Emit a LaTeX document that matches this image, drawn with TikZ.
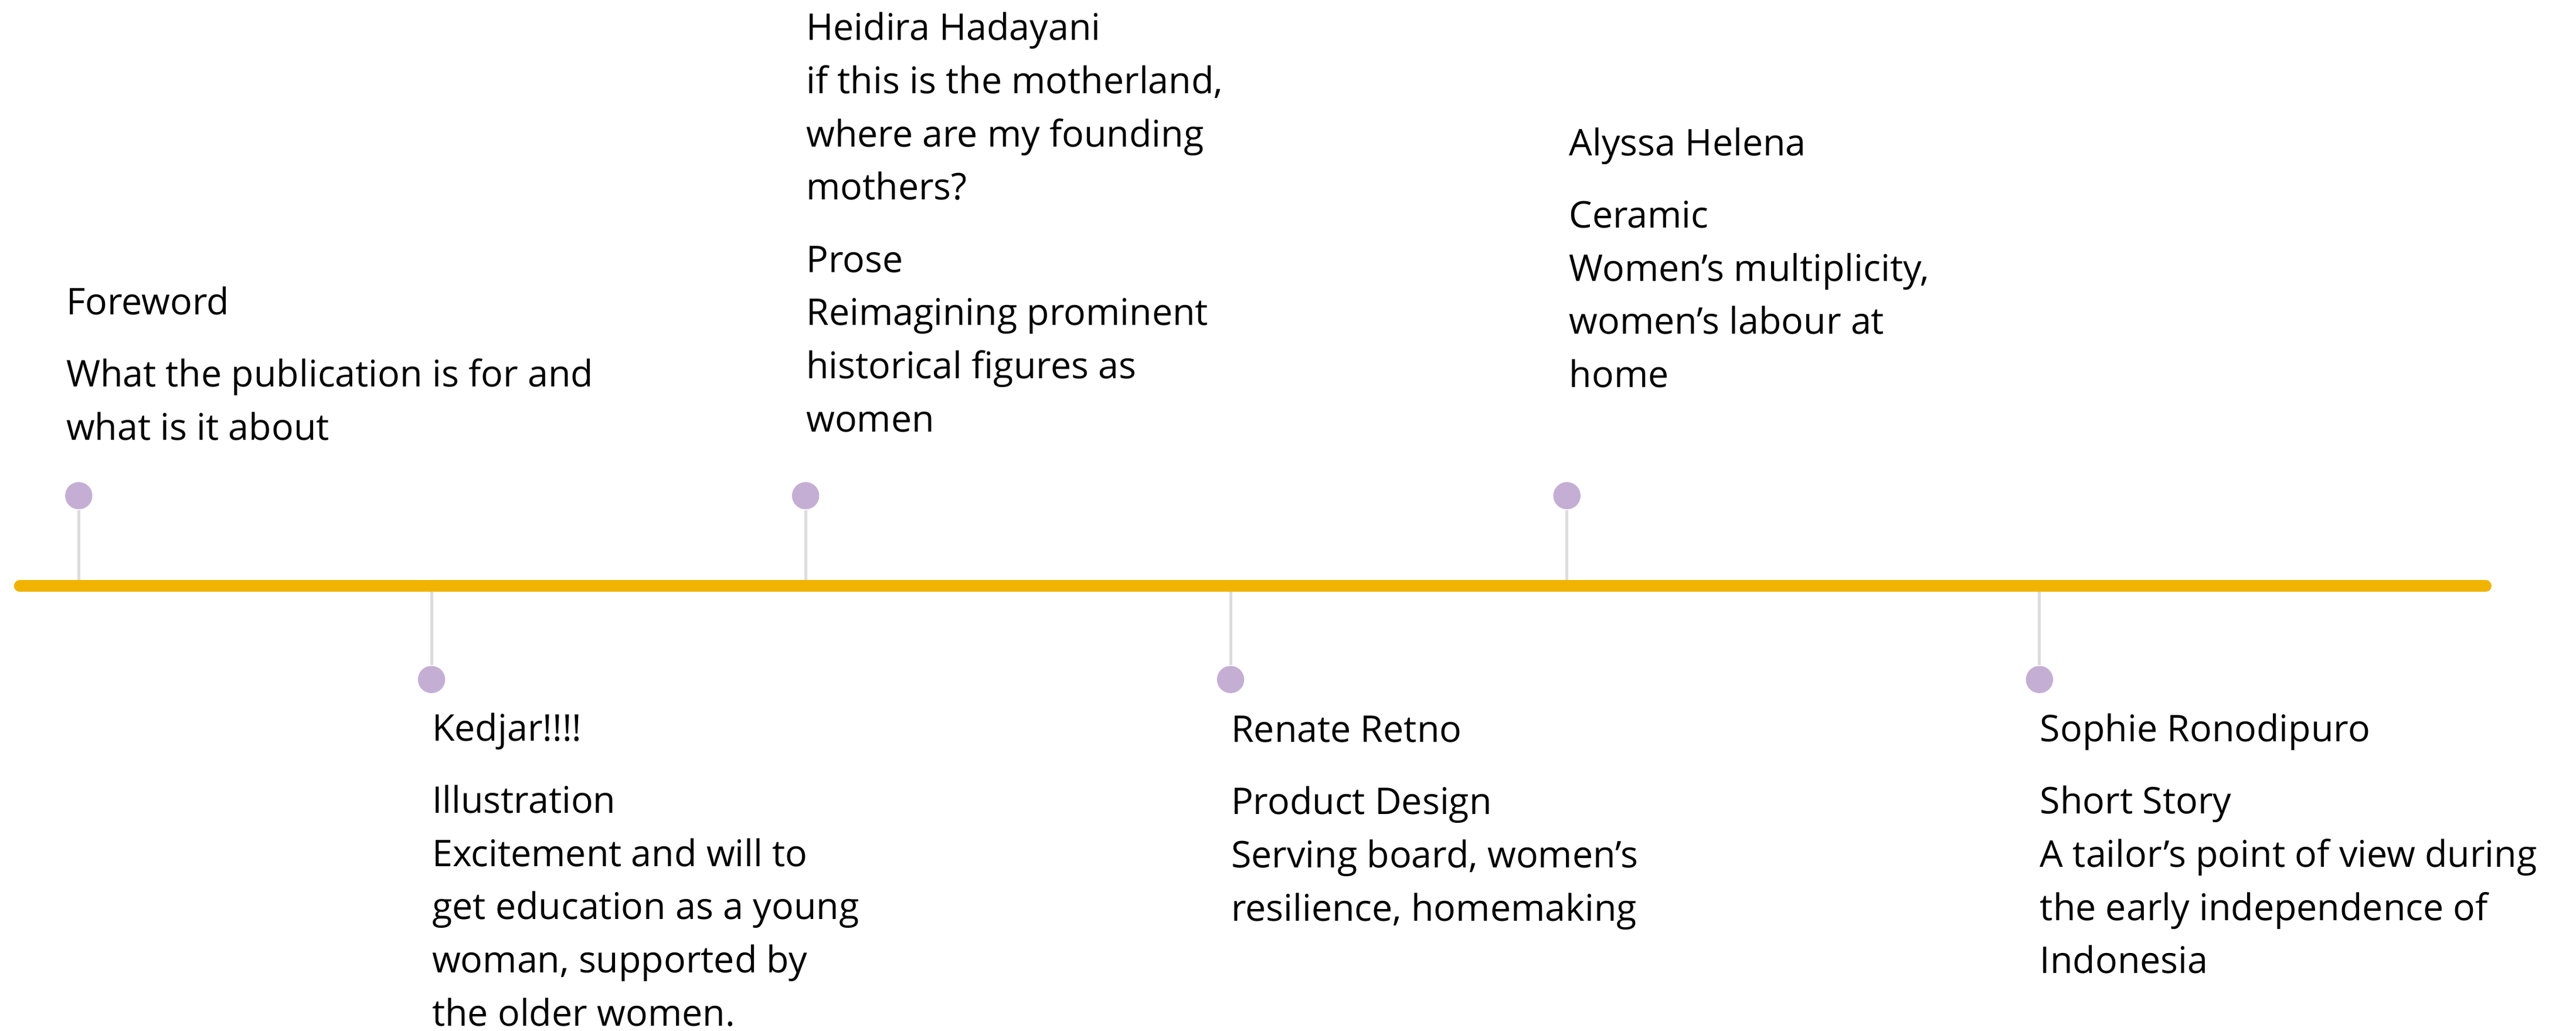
\documentclass[tikz,border=0pt]{standalone}
\usepackage{fontspec}
\setmainfont{Open Sans}
\usepackage{tikz}
\usetikzlibrary{positioning}

\definecolor{timeline}{HTML}{F0B400}
\definecolor{pin}{HTML}{C5AED4}
\definecolor{stem}{HTML}{DCDCDC}

\tikzset{
	pinhead/.style={circle, fill=pin, minimum size=8.3pt, inner sep=0pt},
	entry/.style={anchor=base west, align=left, inner sep=0pt, font=\fontsize{11.2}{16.2}\selectfont},
}

\begin{document}
\begin{tikzpicture}[x=0.5pt, y=-0.5pt]
			\useasboundingbox (0, -2) rectangle (1570, 626);
			\coordinate (start) at (12, 355);
			\coordinate (end) at (1515, 355);
			\foreach \name/\x/\y in {a/48/300, b/263/412, c/491/300, d/750/412, e/955/300, f/1243/412}
			{
				\coordinate (\name base) at (\x, 355);
				\node[pinhead] (\name) at (\x, \y) {};
				\draw[stem, line width=0.9pt] (\name) -- (\name base);
			}
			\draw[timeline, line width=3.5pt, line cap=round] (start) -- (end);
			% entries, placed by the baseline of their last line
			\node[entry] (foreword) at (40, 266) {Foreword\\[5.8pt] What the publication is for and\\ what is it about};
			\node[entry] (heidira) at (491, 261) {Heidira Hadayani\\ if this is the motherland,\\ where are my founding\\ mothers?\\[5.8pt] Prose\\ Reimagining prominent\\ historical figures as\\ women};
			\node[entry] (alyssa) at (956, 234) {Alyssa Helena\\[5.8pt] Ceramic\\ Women’s multiplicity,\\ women’s labour at\\ home};
			\node[entry] (kedjar) at (263, 623) {Kedjar!!!!\\[5.8pt] Illustration\\ Excitement and will to\\ get education as a young\\ woman, supported by\\ the older women.};
			\node[entry] (renate) at (750, 559) {Renate Retno\\[5.8pt] Product Design\\ Serving board, women’s\\ resilience, homemaking};
			\node[entry] (sophie) at (1243, 591) {Sophie Ronodipuro\\[5.8pt] Short Story\\ A tailor’s point of view during\\ the early independence of\\ Indonesia};
		\end{tikzpicture}
\end{document}
